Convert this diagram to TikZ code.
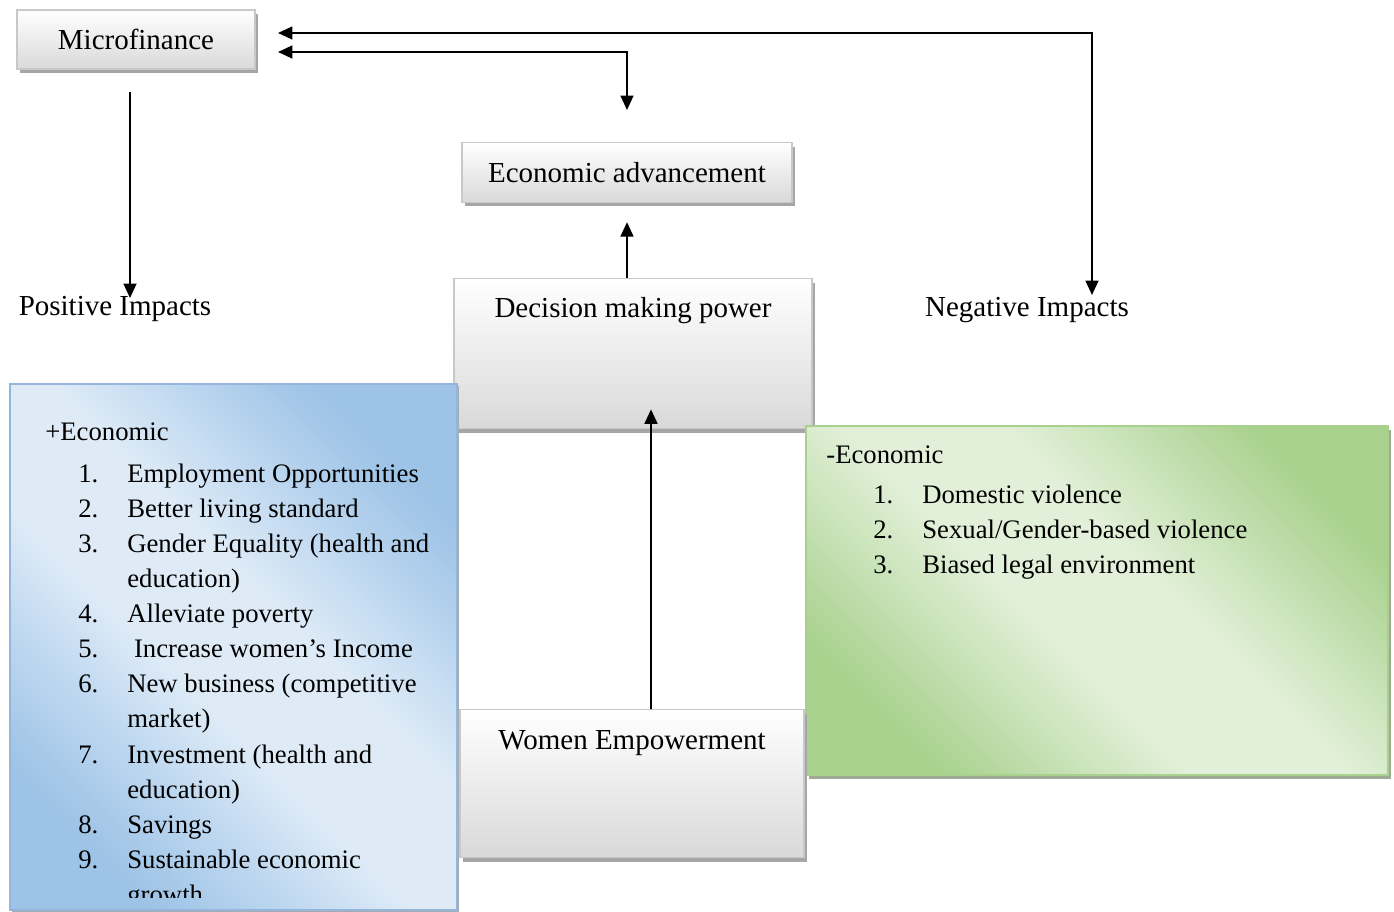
\documentclass[tikz,border=0pt]{standalone}
\usepackage{fontspec}
\setmainfont{Liberation Serif}
\usetikzlibrary{arrows.meta, shadows}
\definecolor{boxline}{RGB}{200,200,200}
\definecolor{boxbot}{RGB}{217,217,217}
\definecolor{boxshade}{RGB}{166,166,166}
\definecolor{posdark}{RGB}{157,195,230}
\definecolor{poslight}{RGB}{222,235,247}
\definecolor{posmid}{RGB}{186,213,239}
\definecolor{posline}{RGB}{149,181,218}
\definecolor{negdark}{RGB}{169,209,142}
\definecolor{neglight}{RGB}{226,240,217}
\definecolor{negmid}{RGB}{196,224,178}
\definecolor{negshade}{RGB}{158,170,148}
% dark corners, wide light middle
\pgfdeclareverticalshading{posfade}{100bp}{color(0bp)=(posdark); color(25bp)=(posdark);
  color(34bp)=(posmid); color(44bp)=(poslight); color(56bp)=(poslight); color(66bp)=(posmid);
  color(75bp)=(posdark); color(100bp)=(posdark)}
\pgfdeclareverticalshading{negfade}{100bp}{color(0bp)=(negdark); color(25bp)=(negdark);
  color(34bp)=(negmid); color(44bp)=(neglight); color(56bp)=(neglight); color(66bp)=(negmid);
  color(75bp)=(negdark); color(100bp)=(negdark)}
\tikzset{
  box/.style={rectangle, draw=boxline, line width=0.8pt, top color=white, bottom color=boxbot,
              drop shadow={shadow xshift=0.06cm, shadow yshift=-0.08cm, fill=boxshade, opacity=1},
              font=\fontsize{16.5}{20}\selectfont, inner sep=0pt, align=center},
  posbox/.style={rectangle, draw=posline, line width=0.8pt, shade, shading=posfade, shading angle=-45,
                 drop shadow={shadow xshift=0.04cm, shadow yshift=-0.04cm, fill=boxshade!80!posdark, opacity=1}},
  negbox/.style={rectangle, draw=negdark, line width=1pt, shade, shading=negfade, shading angle=-45,
                 drop shadow={shadow xshift=0.06cm, shadow yshift=-0.08cm, fill=negshade, opacity=1}},
  lbl/.style={font=\fontsize{16.5}{20}\selectfont, inner sep=0pt},
  listtxt/.style={font=\fontsize{15.2}{20}\selectfont, inner sep=0pt},
  arr/.style={-{Triangle[length=0.29cm, width=0.26cm]}, line width=1pt},
  arrboth/.style={{Triangle[length=0.29cm, width=0.26cm]}-{Triangle[length=0.29cm, width=0.26cm]}, line width=1pt},
}
\begin{document}
\begin{tikzpicture}[x=0.02cm, y=-0.02cm]
\useasboundingbox (0,0) rectangle (1394,912);

% gray boxes
\node[box, minimum width=4.76cm, minimum height=1.18cm] (mf) at (136,39.5) {Microfinance};
\node[box, minimum width=6.6cm, minimum height=1.2cm] (ea) at (627,172.5) {Economic advancement};
\node[box, anchor=north, minimum width=7.16cm, text height=0.78cm, text depth=2.22cm] (dmp) at (633,278) {Decision making power};

% impact boxes
\node[posbox, minimum width=8.94cm, minimum height=10.52cm] (posbox) at (233.5,647) {};
\node[negbox, minimum width=11.64cm, minimum height=6.98cm] (negbox) at (1097,600.5) {};
\node[box, anchor=north, minimum width=6.88cm, text height=0.8cm, text depth=2.16cm] (we) at (632,709) {Women Empowerment};

\node[lbl] (pos) at (115,309) {Positive Impacts};
\node[lbl] (neg) at (1027,310) {Negative Impacts};

% positive list, cut at the box edge
\node[listtxt, anchor=base west] (poshead) at (45,440) {+Economic};
\begin{scope}
\clip (10,384) rectangle (457,897);
\node[listtxt, anchor=base west] (poslist) at (78,482) {%
\begin{tabular}[t]{@{}r@{\hspace{16.5pt}}l@{}}
1. & Employment Opportunities\\
2. & Better living standard\\
3. & Gender Equality (health and\\
   & education)\\
4. & Alleviate poverty\\
5. & \ Increase women’s Income\\
6. & New business (competitive\\
   & market)\\
7. & Investment (health and\\
   & education)\\
8. & Savings\\
9. & Sustainable economic\\
   & growth
\end{tabular}};
\end{scope}

% negative list
\node[listtxt, anchor=base west] (neghead) at (826,463) {-Economic};
\node[listtxt, anchor=base west] (neglist) at (873,503) {%
\begin{tabular}[t]{@{}r@{\hspace{16.5pt}}l@{}}
1. & Domestic violence\\
2. & Sexual/Gender-based violence\\
3. & Biased legal environment
\end{tabular}};

% connectors
\coordinate (mfdown) at (130,92);
\coordinate (postip) at (130,298);
\coordinate (mfin1) at (278,33);
\coordinate (mfin2) at (278,52);
\coordinate (negtip) at (1092,295);
\coordinate (eatip) at (627,110);
\draw[arr] (mfdown) -- (postip);
\draw[arrboth] (mfin1) -| (negtip);
\draw[arrboth] (mfin2) -| (eatip);
\draw[arr] (dmp.north -| ea.south) -- ([yshift=-0.38cm]ea.south);
\draw[arr] ([xshift=0.38cm]we.north) -- ([xshift=0.36cm, yshift=0.4cm]dmp.south);
\end{tikzpicture}
\end{document}
